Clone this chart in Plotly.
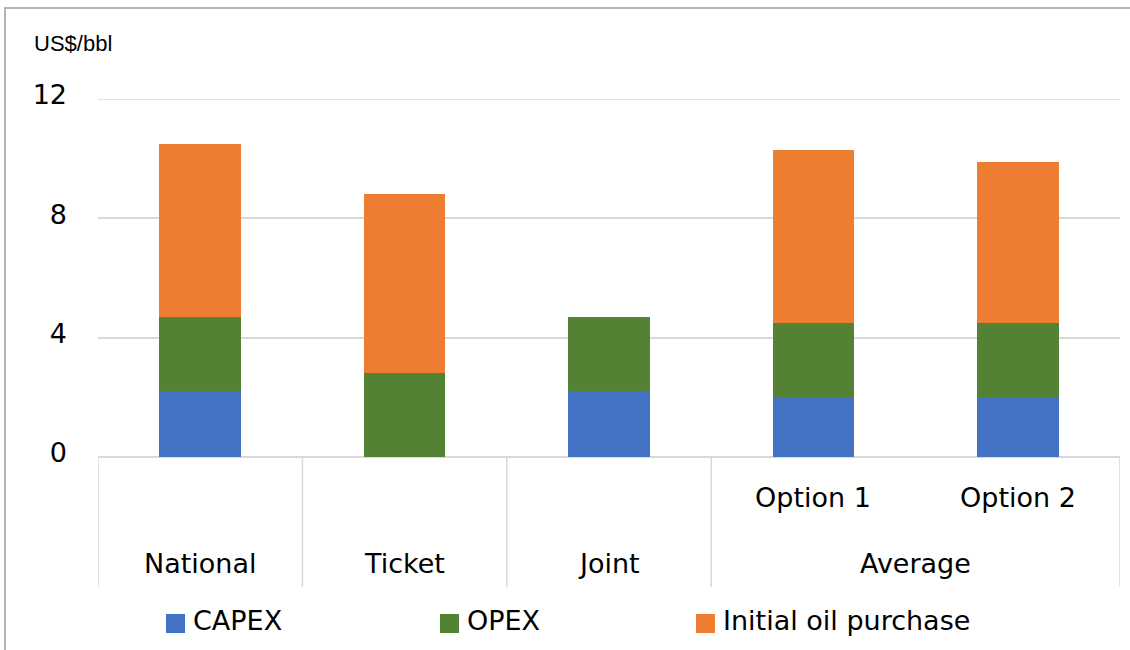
import plotly.graph_objects as go

categories = ["National", "Ticket", "Joint", "Option 1", "Option 2"]
outer_labels = ["National", "Ticket", "Joint", "Average"]
inner_labels = ["", "", "", "Option 1", "Option 2"]
capex = [2.2, 0.0, 2.2, 2.0, 2.0]
opex = [2.5, 2.8, 2.5, 2.5, 2.5]
initial_oil = [5.8, 6.0, 0.0, 5.8, 5.4]
y_ticks = [0, 4, 8, 12]

W, H = 1130, 650
L, R, T, B = 98, 10, 99, 193
PW, PH = W - L - R, H - T - B

def px_x(px):
    return (px - L) / PW

def px_y(py):
    return (H - B - py) / PH

fig = go.Figure()
series = [("CAPEX", capex, "#4472C4"), ("OPEX", opex, "#548235"),
          ("Initial oil purchase", initial_oil, "#ED7D31")]
for name, vals, col in series:
    fig.add_trace(go.Bar(x=categories, y=vals, name=name, marker_color=col,
                         marker_line_width=0, width=0.4, showlegend=False))

shapes = []
# top gridline at 12
shapes.append(dict(type="line", xref="paper", yref="y", x0=0, x1=1, y0=12, y1=12,
                   line=dict(color="#d9d9d9", width=1.5), layer="below"))
# category dividers
for xv in [-0.5, 0.5, 1.5, 2.5, 4.5]:
    shapes.append(dict(type="line", xref="x", yref="paper", x0=xv, x1=xv,
                       y0=0, y1=px_y(587), line=dict(color="#d9d9d9", width=1.5)))
# outer frame (top & left)
shapes.append(dict(type="path", xref="paper", yref="paper",
                   path=f"M {px_x(5)},{px_y(660)} L {px_x(5)},{px_y(8)} L {px_x(1140)},{px_y(8)}",
                   line=dict(color="#b4b4b4", width=2)))

annotations = []
tick_font = dict(family="DejaVu Sans", size=27, color="#000000")
for i, lab in enumerate(inner_labels):
    if lab:
        annotations.append(dict(x=categories[i], xref="x", y=px_y(498), yref="paper",
                                text=lab, showarrow=False, font=tick_font,
                                xanchor="center", yanchor="middle"))
outer_pos = [0, 1, 2, 3.5]
for xv, lab in zip(outer_pos, outer_labels):
    annotations.append(dict(x=xv, xref="x", y=px_y(563), yref="paper",
                            text=lab, showarrow=False, font=tick_font,
                            xanchor="center", yanchor="middle"))
annotations.append(dict(x=px_x(32), xref="paper", y=px_y(44), yref="paper",
                        text="US$/bbl", showarrow=False,
                        font=dict(family="Liberation Sans, Arial", size=22, color="#000000"),
                        xanchor="left", yanchor="middle"))

# legend (custom, to match the large square swatches)
legend_left = [166, 440, 696]
for (name, _, col), lx in zip(series, legend_left):
    shapes.append(dict(type="rect", xref="paper", yref="paper",
                       x0=px_x(lx), x1=px_x(lx + 19), y0=px_y(633), y1=px_y(614),
                       fillcolor=col, line=dict(width=0)))
    annotations.append(dict(x=px_x(lx + 27), xref="paper", y=px_y(620), yref="paper",
                            text=name, showarrow=False, font=tick_font,
                            xanchor="left", yanchor="middle", xshift=-2))

fig.update_layout(
    width=W, height=H,
    margin=dict(l=L, r=R, t=T, b=B, autoexpand=False),
    barmode="stack",
    plot_bgcolor="white", paper_bgcolor="white",
    showlegend=False,
    xaxis=dict(type="category", range=[-0.5, 4.5], showticklabels=False,
               showgrid=False, zeroline=False, showline=False, ticks=""),
    yaxis=dict(range=[0, 12], tickvals=y_ticks, ticktext=[str(v) for v in y_ticks],
               showgrid=True, gridcolor="#d9d9d9", gridwidth=1.5,
               zeroline=True, zerolinecolor="#d9d9d9", zerolinewidth=1.5,
               showline=False, ticks="", tickfont=tick_font,
               ticklabelstandoff=30, ticklabelshift=-4),
    shapes=shapes, annotations=annotations,
)

fig.write_html("out.html")
